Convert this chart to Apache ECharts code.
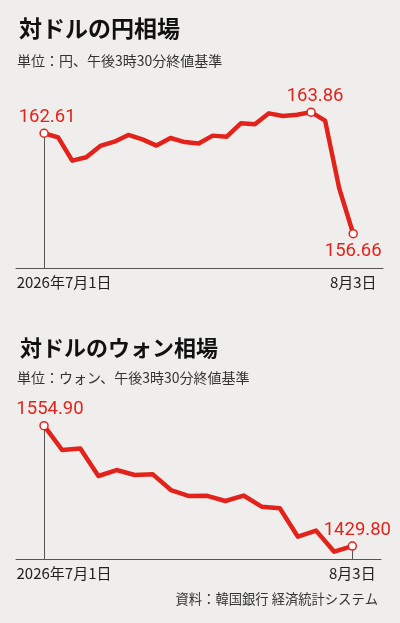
<!DOCTYPE html>
<html lang="ja">
<head>
    <meta charset="UTF-8">
    <title>対ドルの円・ウォン相場</title>
    <script src="https://cdn.jsdelivr.net/npm/echarts@6/dist/echarts.min.js"></script>
    <style>
        html, body { margin: 0; padding: 0; background: #efeeec; }
        #main { width: 400px; height: 623px; }
    </style>
</head>
<body>
    <div id="main"></div>
    <script>
        // 円相場（2026/7/1〜8/3）
        const yenValues = [162.61, 162.37, 160.99, 161.19, 161.86, 162.11, 162.51, 162.25, 161.88, 162.33, 162.09, 162.00,
            162.47, 162.41, 163.20, 163.14, 163.79, 163.63, 163.71, 163.86, 163.36, 159.36, 156.66];
        const yenLabelIdx = [0, 19, 22];
        const yenTickIdx = [0, 22];

        // ウォン相場
        const wonValues = [1554.90, 1529.6, 1531.3, 1502.6, 1508.8, 1503.6, 1504.3, 1488.0, 1481.8, 1482.0, 1476.6,
            1482.3, 1470.7, 1469.0, 1439.5, 1445.8, 1423.9, 1429.80];
        const wonLabelIdx = [0, 17];
        const wonTickIdx = [0, 17];

        const tickLabels = ['2026年7月1日', '8月3日'];

        const RED = '#e3231b';
        const NUM_FONT = "Roboto, 'Noto Sans CJK JP', sans-serif";
        const CJK_FONT = "'Noto Sans CJK JP', sans-serif";

        let chart = echarts.init(document.getElementById('main'), null, {renderer: 'canvas'});

        //ラベル付きのデータを作る
        function buildData(values, labelIdx, pos, offsets) {
            return values.map((v, i) => {
                let k = labelIdx.indexOf(i);
                if (k < 0) return [i, v];
                return {
                    value: [i, v],
                    label: {
                        show: true,
                        position: pos[k],
                        distance: pos[k] === 'top' ? 2 : 4,
                        offset: offsets[k],
                        formatter: v.toFixed(2)
                    }
                };
            });
        }

        function xAxisFor(gridIndex, min, max, ticks) {
            return {
                type: 'value',
                gridIndex: gridIndex,
                min: min,
                max: max,
                splitLine: {show: false},
                axisTick: {show: false},
                axisLine: {show: true, onZero: false, lineStyle: {color: '#555', width: 1}},
                axisLabel: {
                    show: true,
                    customValues: ticks,
                    margin: 7,
                    color: '#222',
                    fontSize: 15,
                    fontFamily: CJK_FONT,
                    formatter: function (val) {
                        let k = ticks.indexOf(val);
                        if (k === 0) return '{l|' + tickLabels[0] + '}';
                        return tickLabels[1];
                    },
                    rich: {
                        l: {padding: [0, 0, 0, 40], fontSize: 15, fontFamily: CJK_FONT, color: '#222'}
                    }
                }
            };
        }

        function yAxisFor(gridIndex, min, max) {
            return {type: 'value', gridIndex: gridIndex, min: min, max: max, show: false, splitLine: {show: false}};
        }

        function lineSeries(idx, values, labelIdx, pos, offsets, dropIdx, yMin) {
            return {
                type: 'line',
                xAxisIndex: idx,
                yAxisIndex: idx,
                data: buildData(values, labelIdx, pos, offsets),
                symbol: 'circle',
                showAllSymbol: true,
                symbolSize: function (val, params) {
                    return labelIdx.indexOf(params.dataIndex) >= 0 ? 8 : 0;
                },
                lineStyle: {color: RED, width: 4.5, join: 'round'},
                itemStyle: {color: '#fff', borderColor: RED, borderWidth: 1.5},
                label: {show: false, color: RED, fontSize: 18.5, fontFamily: NUM_FONT},
                emphasis: {disabled: true},
                z: 3,
                markLine: {
                    silent: true,
                    symbol: 'none',
                    label: {show: false},
                    lineStyle: {color: '#555', width: 1, type: 'solid'},
                    z: 1,
                    data: dropIdx.map(i => [{coord: [i, values[i]]}, {coord: [i, yMin]}])
                }
            };
        }

        const yenMin = 154.63, yenMax = 164.58;
        const wonMin = 1416.33, wonMax = 1581.6;

        let options = {
            backgroundColor: '#efeeec',
            animation: false,
            grid: [
                {left: 16, width: 367, top: 100, height: 168},
                {left: 16, width: 365, top: 400, height: 159}
            ],
            xAxis: [
                xAxisFor(0, -2, 24.12, yenTickIdx),
                xAxisFor(1, -1.544, 18.58, wonTickIdx)
            ],
            yAxis: [
                yAxisFor(0, yenMin, yenMax),
                yAxisFor(1, wonMin, wonMax)
            ],
            series: [
                lineSeries(0, yenValues, yenLabelIdx, ['top', 'top', 'bottom'], [[3, 0], [4, 0], [0, 0]], [0], yenMin),
                lineSeries(1, wonValues, wonLabelIdx, ['top', 'top'], [[6, 0], [5, 0]], [0, 17], wonMin)
            ],
            graphic: [
                {type: 'text', left: 19, top: 17, style: {text: '対ドルの円相場', fontSize: 23, fontWeight: 'bold', fontFamily: CJK_FONT, fill: '#111'}},
                {type: 'text', left: 17, top: 54, style: {text: '単位：円、午後3時30分終値基準', fontSize: 14, fontFamily: CJK_FONT, fill: '#333'}},
                {type: 'text', left: 20, top: 337, style: {text: '対ドルのウォン相場', fontSize: 22, fontWeight: 'bold', fontFamily: CJK_FONT, fill: '#111'}},
                {type: 'text', left: 17, top: 371, style: {text: '単位：ウォン、午後3時30分終値基準', fontSize: 14, fontFamily: CJK_FONT, fill: '#333'}},
                {type: 'text', right: 22, top: 592, style: {text: '資料：韓国銀行 経済統計システム', fontSize: 13.3, fontFamily: CJK_FONT, fill: '#333'}}
            ]
        };

        chart.setOption(options);
    </script>
</body>
</html>
